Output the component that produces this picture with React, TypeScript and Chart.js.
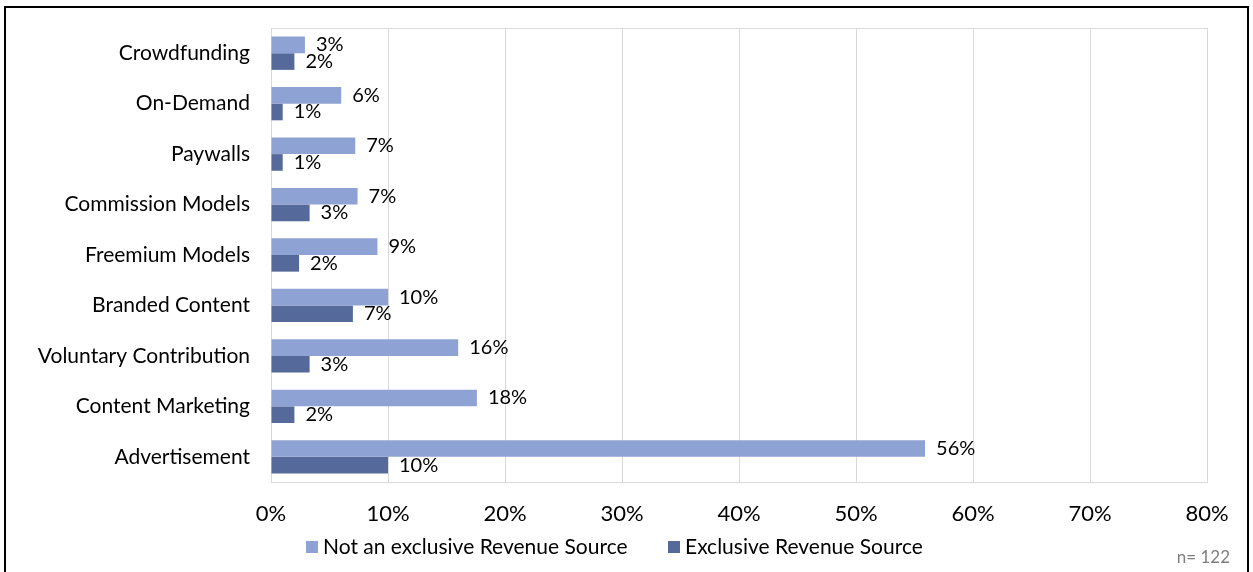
import React, { useEffect, useRef } from "react";
import { Chart, registerables } from "chart.js";

Chart.register(...registerables);

const categories = [
  "Crowdfunding",
  "On-Demand",
  "Paywalls",
  "Commission Models",
  "Freemium Models",
  "Branded Content",
  "Voluntary Contribution",
  "Content Marketing",
  "Advertisement",
];
const notExclusive = [2.9, 6.0, 7.2, 7.4, 9.1, 10.0, 16.0, 17.6, 55.9];
const exclusive = [2.0, 1.0, 1.0, 3.3, 2.4, 7.0, 3.3, 2.0, 10.0];
const seriesNames = ["Not an exclusive Revenue Source", "Exclusive Revenue Source"];
const colors = ["#8FA2D4", "#556A9A"];
const note = "n= 122";

const FONT = "Lato, 'Open Sans', sans-serif";

export default function App() {
  const ref = useRef<HTMLCanvasElement | null>(null);
  useEffect(() => {
    document.body.style.margin = "0";
    const canvas = ref.current!;
    const overlay = {
      id: "overlay",
      beforeDatasetsDraw(chart: any) {
        const { ctx, chartArea } = chart;
        ctx.save();
        ctx.strokeStyle = "#D9D9D9";
        ctx.lineWidth = 1;
        ctx.strokeRect(
          Math.round(chartArea.left) + 0.5,
          Math.round(chartArea.top) + 0.5,
          Math.round(chartArea.right - chartArea.left),
          Math.round(chartArea.bottom - chartArea.top)
        );
        ctx.restore();
      },
      afterDatasetsDraw(chart: any) {
        const { ctx } = chart;
        ctx.save();
        ctx.font = `20px ${FONT}`;
        ctx.fillStyle = "#000";
        ctx.textAlign = "left";
        ctx.textBaseline = "middle";
        chart.data.datasets.forEach((ds: any, di: number) => {
          const meta = chart.getDatasetMeta(di);
          meta.data.forEach((el: any, i: number) => {
            const v = ds.data[i];
            ctx.fillText(Math.round(v) + "%", el.x + 11, el.y);
          });
        });
        ctx.restore();
      },
      afterDraw(chart: any) {
        const { ctx } = chart;
        ctx.save();
        // outer frame
        ctx.strokeStyle = "#000";
        ctx.lineWidth = 2;
        ctx.strokeRect(5, 7, 1243, 600);
        // legend
        ctx.font = `21px ${FONT}`;
        ctx.textBaseline = "middle";
        ctx.textAlign = "left";
        const items = [
          { x: 306, label: seriesNames[0], color: colors[0] },
          { x: 668, label: seriesNames[1], color: colors[1] },
        ];
        items.forEach((it) => {
          ctx.fillStyle = it.color;
          ctx.fillRect(it.x, 541, 12, 12);
          ctx.fillStyle = "#000";
          ctx.fillText(it.label, it.x + 17, 547);
        });
        // note
        ctx.font = `17px ${FONT}`;
        ctx.fillStyle = "#7F7F7F";
        ctx.textAlign = "right";
        ctx.fillText(note, 1230, 558);
        ctx.restore();
      },
    };

    const chart = new Chart(canvas, {
      type: "bar",
      data: {
        labels: categories,
        datasets: [
          {
            label: seriesNames[0],
            data: notExclusive,
            backgroundColor: colors[0],
            categoryPercentage: 0.66,
            barPercentage: 1,
          },
          {
            label: seriesNames[1],
            data: exclusive,
            backgroundColor: colors[1],
            categoryPercentage: 0.66,
            barPercentage: 1,
          },
        ],
      },
      options: {
        indexAxis: "y",
        responsive: false,
        animation: false,
        layout: { padding: { top: 28, right: 46, bottom: 40, left: 0 } },
        plugins: { legend: { display: false }, tooltip: { enabled: false } },
        scales: {
          x: {
            min: 0,
            max: 80,
            ticks: {
              stepSize: 10,
              callback: (v: any) => v + "%",
              font: { family: FONT, size: 22 },
              color: "#000",
              padding: 19,
              maxRotation: 0,
            },
            grid: { color: "#D9D9D9", drawTicks: false },
            border: { display: false },
            afterFit: (s: any) => {
              s.height = 50;
            },
          },
          y: {
            ticks: {
              font: { family: FONT, size: 21 },
              color: "#000",
              padding: 21,
            },
            grid: { display: false, drawTicks: false },
            border: { display: false },
            afterFit: (s: any) => {
              s.width = 271;
              s.paddingTop = 0;
              s.paddingBottom = 0;
            },
          },
        },
      },
      plugins: [overlay],
    } as any);
    return () => chart.destroy();
  }, []);
  return (
    <div style={{ width: 1253, height: 572 }}>
      <canvas ref={ref} width={1253} height={572} />
    </div>
  );
}
